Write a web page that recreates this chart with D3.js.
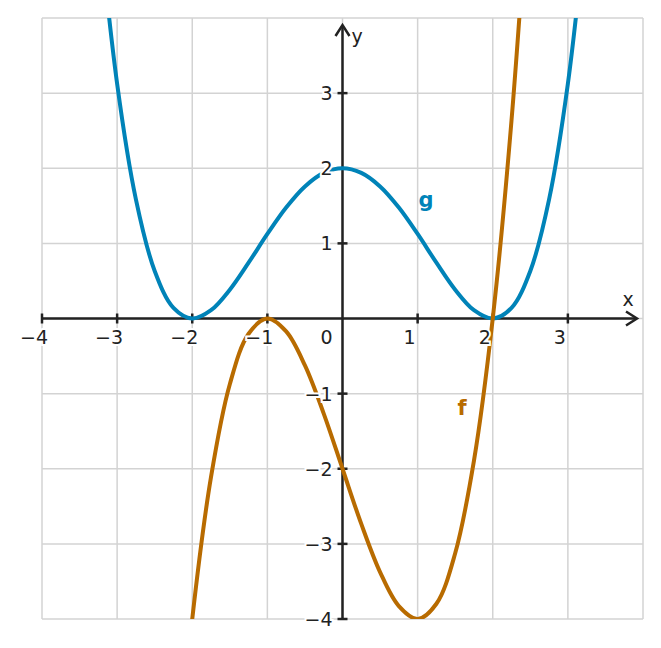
<!DOCTYPE html>
<html><head><meta charset="utf-8">
<script src="https://cdn.jsdelivr.net/npm/d3@7"></script>
<style>body{margin:0;background:#fff}text{font-family:"DejaVu Sans",sans-serif}</style>
</head><body><svg id="chart" width="661" height="648"></svg>
<script>
const gX = [-3.25,-3,-2.75,-2.5,-2.25,-2,-1.75,-1.5,-1.25,-1,-0.75,-0.5,-0.25,0,0.25,0.5,0.75,1,1.25,1.5,1.75,2,2.25,2.5,2.75,3,3.25];
const gY = [5.38,3.125,1.586,0.633,0.141,0,0.11,0.383,0.743,1.125,1.477,1.758,1.938,2,1.938,1.758,1.477,1.125,0.743,0.383,0.11,0,0.141,0.633,1.586,3.125,5.38];
const fX = [-2.25,-2,-1.75,-1.5,-1.25,-1,-0.75,-0.5,-0.25,0,0.25,0.5,0.75,1,1.25,1.5,1.75,2,2.25,2.5];
const fY = [-6.64,-4,-2.109,-0.875,-0.203,0,-0.172,-0.625,-1.266,-2,-2.734,-3.375,-3.828,-4,-3.797,-3.125,-1.891,0,2.641,6.125];
const xTicks = [-4,-3,-2,-1,1,2,3];
const yTicks = [-4,-3,-2,-1,1,2,3];

const svg = d3.select('#chart');
const x = d3.scaleLinear().domain([-4,4]).range([42,643]);
const y = d3.scaleLinear().domain([-4,4]).range([619,18]);

// grid
const grid = svg.append('g').attr('stroke','#d3d3d3').attr('stroke-width',1.5);
d3.range(-4,5).forEach(v => {
  grid.append('line').attr('x1',x(v)).attr('x2',x(v)).attr('y1',18).attr('y2',619);
  grid.append('line').attr('y1',y(v)).attr('y2',y(v)).attr('x1',42).attr('x2',643);
});

svg.append('defs').append('clipPath').attr('id','clip')
  .append('rect').attr('x',42).attr('y',18).attr('width',601).attr('height',601);

// axes
const ax = svg.append('g').attr('stroke','#222').attr('stroke-width',2.5).attr('fill','none');
ax.append('line').attr('x1',42).attr('x2',636).attr('y1',y(0)).attr('y2',y(0));
ax.append('line').attr('x1',x(0)).attr('x2',x(0)).attr('y1',619).attr('y2',26);
ax.append('path').attr('d',`M${626},${y(0)-7}L${637},${y(0)}L${626},${y(0)+7}`);
ax.append('path').attr('d',`M${x(0)-7},${36}L${x(0)},${25}L${x(0)+7},${36}`);
xTicks.forEach(v => ax.append('line').attr('x1',x(v)).attr('x2',x(v)).attr('y1',y(0)-5).attr('y2',y(0)+5));
yTicks.forEach(v => ax.append('line').attr('y1',y(v)).attr('y2',y(v)).attr('x1',x(0)-5).attr('x2',x(0)+5));

// curves
const line = d3.line().x(d => x(d[0])).y(d => y(d[1])).curve(d3.curveCatmullRom);
const curves = svg.append('g').attr('clip-path','url(#clip)').attr('fill','none').attr('stroke-width',4);
curves.append('path').attr('d',line(d3.zip(gX,gY))).attr('stroke','#0083b8');
curves.append('path').attr('d',line(d3.zip(fX,fY))).attr('stroke','#b86b00');

// labels
const lab = svg.append('g').attr('font-size',19).attr('fill','#222')
  .attr('stroke','#fff').attr('stroke-width',4).attr('paint-order','stroke');
const fmt = v => v < 0 ? '\u2212' + Math.abs(v) : String(v);
xTicks.forEach(v => lab.append('text').attr('x',x(v)-8).attr('y',y(0)+25).attr('text-anchor','middle').text(fmt(v)));
lab.append('text').attr('x',x(0)-16).attr('y',y(0)+25).attr('text-anchor','middle').text('0');
yTicks.forEach(v => lab.append('text').attr('x',x(0)-10).attr('y',y(v)+7).attr('text-anchor','end').text(fmt(v)));
lab.append('text').attr('x',628).attr('y',306).attr('text-anchor','middle').text('x');
lab.append('text').attr('x',357).attr('y',43).attr('text-anchor','middle').text('y');
svg.append('text').attr('x',426).attr('y',207).attr('text-anchor','middle').attr('font-size',21).attr('font-weight','bold').attr('fill','#0083b8').text('g');
svg.append('text').attr('x',462).attr('y',415).attr('text-anchor','middle').attr('font-size',21).attr('font-weight','bold').attr('fill','#b86b00').text('f');
</script></body></html>
